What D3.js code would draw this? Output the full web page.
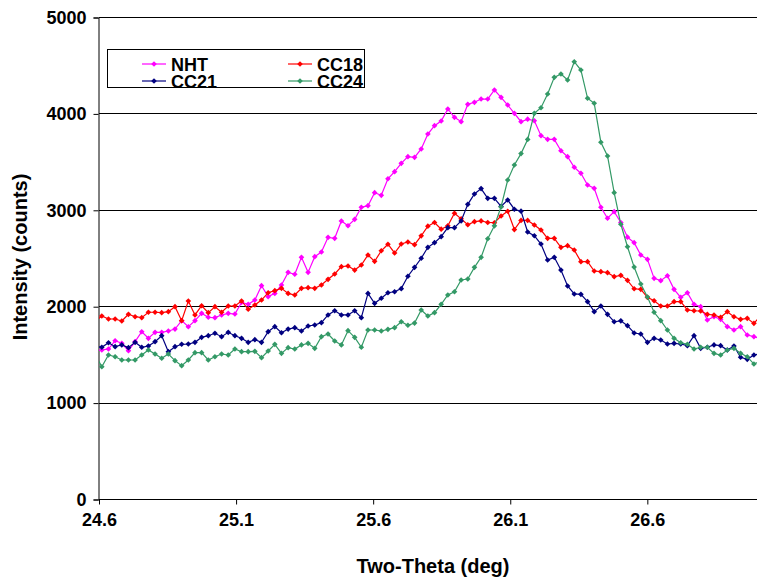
<!DOCTYPE html>
<html>
<head>
<meta charset="utf-8">
<style>
  body { margin: 0; background: #fff; }
  svg { display: block; font-family: "Liberation Sans", Arial, sans-serif; }
  .tick-label { font-size: 18px; font-weight: bold; fill: #000; }
  .axis-title { font-size: 20px; font-weight: bold; fill: #000; }
  .legend-text { font-size: 18px; font-weight: bold; fill: #000; }
  .grid { stroke: #000; stroke-width: 1; shape-rendering: crispEdges; }
</style>
</head>
<body>
<script src="https://cdn.jsdelivr.net/npm/d3@7"></script>
<script>

// scan: first sample just left of 24.6, constant step
var thetaStart = 24.586,
    thetaStep = 0.02427;

var xTicks = [24.6, 25.1, 25.6, 26.1, 26.6],
    yTicks = [0, 1000, 2000, 3000, 4000, 5000];

var nht = [1535, 1546, 1556, 1642, 1615, 1538, 1632, 1735, 1667, 1729,
  1729, 1743, 1763, 1850, 1787, 1850, 1926, 1885, 1881, 1909,
  1926, 1919, 2040, 2020, 2064, 2213, 2099, 2133, 2220, 2351,
  2331, 2507, 2351, 2514, 2562, 2714, 2704, 2884, 2835, 2901,
  3026, 3043, 3178, 3150, 3322, 3396, 3482, 3551, 3544, 3631,
  3786, 3873, 3921, 4046, 3959, 3914, 4094, 4115, 4149, 4149,
  4243, 4167, 4087, 4001, 3914, 3940, 3924, 3769, 3731, 3731,
  3613, 3551, 3441, 3379, 3257, 3223, 3026, 2912, 2981, 2868,
  2716, 2659, 2531, 2486, 2289, 2265, 2316, 2175, 2092, 2140,
  2020, 1995, 1857, 1891, 1864, 1788, 1753, 1788, 1701, 1684, 1660];

var cc18 = [1846, 1898, 1867, 1867, 1846, 1916, 1891, 1881, 1937, 1937,
  1933, 1943, 1995, 1850, 2054, 1909, 2005, 1933, 1995, 1937,
  2002, 2002, 2054, 1968, 2012, 2064, 2140, 2161, 2185, 2133,
  2116, 2185, 2192, 2185, 2220, 2279, 2334, 2410, 2417, 2375,
  2427, 2531, 2465, 2575, 2643, 2552, 2645, 2666, 2638, 2730,
  2830, 2868, 2799, 2834, 2964, 2906, 2845, 2877, 2885, 2868,
  2866, 2936, 2985, 2795, 2890, 2890, 2842, 2790, 2704, 2704,
  2611, 2628, 2583, 2462, 2462, 2365, 2358, 2348, 2306, 2320,
  2268, 2181, 2175, 2092, 2057, 2002, 2002, 2047, 2047, 1961,
  1953, 1950, 1916, 1909, 1885, 1943, 1891, 1864, 1874, 1822, 1900];

var cc21 = [1587, 1574, 1621, 1580, 1598, 1570, 1625, 1574, 1587, 1632,
  1694, 1528, 1580, 1605, 1608, 1625, 1677, 1694, 1719, 1684,
  1729, 1694, 1667, 1625, 1653, 1625, 1736, 1788, 1725, 1763,
  1777, 1743, 1795, 1805, 1829, 1909, 1953, 1909, 1909, 1953,
  1881, 2133, 2030, 2082, 2140, 2150, 2182, 2311, 2403, 2497,
  2611, 2659, 2721, 2815, 2815, 2884, 3057, 3164, 3220, 3119,
  3119, 3035, 3102, 3006, 2986, 2770, 2731, 2645, 2479, 2507,
  2375, 2210, 2127, 2123, 2047, 1943, 2002, 1916, 1839, 1848,
  1798, 1722, 1712, 1625, 1667, 1649, 1608, 1615, 1608, 1591,
  1694, 1563, 1574, 1598, 1591, 1546, 1587, 1470, 1449, 1494, 1510];

var cc24 = [1500, 1372, 1494, 1476, 1442, 1442, 1442, 1494, 1546, 1504,
  1460, 1504, 1435, 1383, 1442, 1518, 1518, 1442, 1476, 1504,
  1494, 1556, 1528, 1528, 1532, 1466, 1535, 1604, 1511, 1570,
  1556, 1598, 1615, 1563, 1684, 1712, 1639, 1598, 1746, 1677,
  1574, 1753, 1753, 1743, 1760, 1777, 1839, 1802, 1825, 1961,
  1898, 1933, 2020, 2116, 2150, 2272, 2282, 2403, 2507, 2700,
  2834, 3030, 3309, 3465, 3583, 3730, 4001, 4059, 4201, 4374,
  4409, 4346, 4536, 4450, 4157, 4105, 3701, 3558, 3178, 2850,
  2617, 2406, 2230, 2095, 1937, 1850, 1753, 1667, 1621, 1605,
  1556, 1574, 1574, 1511, 1494, 1546, 1563, 1511, 1476, 1400, 1430];

var seriesNames = ["NHT", "CC18", "CC21", "CC24"],
    seriesColors = ["#FF00FF", "#FF0000", "#000080", "#339966"],
    seriesValues = [nht, cc18, cc21, cc24];

var twoTheta = d3.range(nht.length).map(function(i) { return thetaStart + i * thetaStep; });

var width = 758, height = 581,
    plotLeft = 99, plotRight = 757, plotTop = 17, plotBottom = 499;

var x = d3.scaleLinear().domain([24.6, 27.0]).range([plotLeft, plotRight]);
var y = d3.scaleLinear().domain([0, 5000]).range([plotBottom, plotTop]);

var svg = d3.select("body").append("svg")
    .attr("width", width)
    .attr("height", height);

svg.append("defs").append("clipPath")
    .attr("id", "plot-clip")
  .append("rect")
    .attr("x", plotLeft)
    .attr("y", plotTop - 4)
    .attr("width", plotRight - plotLeft)
    .attr("height", plotBottom - plotTop + 8);

// horizontal gridlines
svg.append("g")
  .selectAll("line")
    .data(yTicks.slice(1))
  .enter().append("line")
    .attr("class", "grid")
    .attr("x1", plotLeft)
    .attr("x2", plotRight)
    .attr("y1", function(d) { return Math.round(y(d)) + 0.5; })
    .attr("y2", function(d) { return Math.round(y(d)) + 0.5; });

// y axis
var yAxis = svg.append("g")
    .attr("transform", "translate(" + (plotLeft - 0.5) + ",0.5)")
    .call(d3.axisLeft(y).tickValues(yTicks).tickSize(5).tickPadding(7).tickFormat(d3.format("d")));
yAxis.select(".domain").attr("stroke", "#000");
yAxis.selectAll(".tick line").attr("stroke", "#000");
yAxis.selectAll("text").attr("class", "tick-label").attr("font-family", null).attr("font-size", null);

// x axis
var xAxis = svg.append("g")
    .attr("transform", "translate(0," + (plotBottom + 0.5) + ")")
    .call(d3.axisBottom(x).tickValues(xTicks).tickSize(5).tickPadding(9).tickFormat(d3.format(".1f")));
xAxis.select(".domain").attr("stroke", "#000").attr("d", "M" + plotLeft + ",0H" + plotRight);
xAxis.selectAll(".tick line").attr("stroke", "#000");
xAxis.selectAll("text").attr("class", "tick-label").attr("font-family", null).attr("font-size", null);

// series
var line = d3.line()
    .x(function(d, i) { return x(twoTheta[i]); })
    .y(function(d) { return y(d); });

var marker = d3.symbol().type(d3.symbolSquare).size(16);

var plot = svg.append("g").attr("clip-path", "url(#plot-clip)");

seriesValues.forEach(function(vals, k) {
  var g = plot.append("g");
  g.append("path")
      .datum(vals)
      .attr("fill", "none")
      .attr("stroke", seriesColors[k])
      .attr("stroke-width", 1.2)
      .attr("d", line);
  g.selectAll("path.pt")
      .data(vals)
    .enter().append("path")
      .attr("class", "pt")
      .attr("d", marker)
      .attr("fill", seriesColors[k])
      .attr("transform", function(d, i) {
        return "translate(" + x(twoTheta[i]) + "," + y(d) + ") rotate(45)";
      });
});

// axis titles
svg.append("text")
    .attr("class", "axis-title")
    .attr("x", 433)
    .attr("y", 573)
    .attr("text-anchor", "middle")
    .text("Two-Theta (deg)");

svg.append("text")
    .attr("class", "axis-title")
    .attr("transform", "translate(27,257) rotate(-90)")
    .attr("text-anchor", "middle")
    .text("Intensity (counts)");

// legend
var legend = svg.append("g");
legend.append("rect")
    .attr("x", 107.5)
    .attr("y", 49.5)
    .attr("width", 257)
    .attr("height", 38)
    .attr("fill", "#fff")
    .attr("stroke", "#000");

var legendPos = [[142, 64], [288, 64], [142, 81], [288, 81]];

seriesNames.forEach(function(name, k) {
  var p = legendPos[k];
  legend.append("line")
      .attr("x1", p[0]).attr("x2", p[0] + 24)
      .attr("y1", p[1]).attr("y2", p[1])
      .attr("stroke", seriesColors[k])
      .attr("stroke-width", 1.2);
  legend.append("path")
      .attr("d", marker)
      .attr("fill", seriesColors[k])
      .attr("transform", "translate(" + (p[0] + 12) + "," + p[1] + ") rotate(45)");
  legend.append("text")
      .attr("class", "legend-text")
      .attr("x", p[0] + 29)
      .attr("y", p[1] + 6.5)
      .text(name);
});

</script>
</body>
</html>
